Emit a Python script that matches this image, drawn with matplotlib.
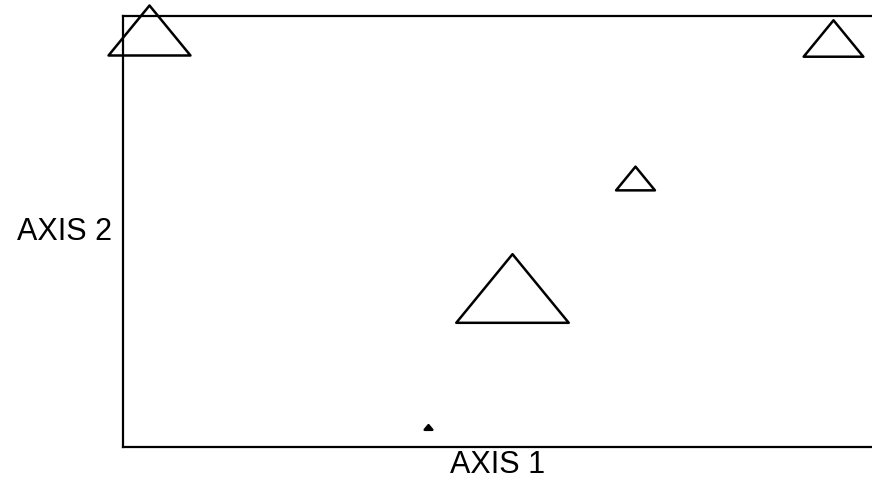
import matplotlib
matplotlib.use("Agg")
import matplotlib.pyplot as plt
from matplotlib.path import Path

# positions of the triangles on the two axes (arbitrary units 0..10)
axis1 = [0.35, 9.48, 6.84, 5.20, 4.07]
axis2 = [9.68, 9.48, 6.24, 3.70, 0.46]
# triangle widths in points
widths = [59, 43, 28, 81, 5.5]
filled = [False, False, False, False, True]

# flat open triangle, wider than tall
tri = Path([(-0.5, -0.305), (0.5, -0.305), (0.0, 0.305), (-0.5, -0.305)],
           [Path.MOVETO, Path.LINETO, Path.LINETO, Path.CLOSEPOLY])

plt.rcParams['font.family'] = ['Liberation Sans', 'DejaVu Sans']

fig = plt.figure(figsize=(8.72, 4.91), dpi=100)
ax = fig.add_axes([0.141, 0.0896, 0.859, 0.878])

for x, y, w, f in zip(axis1, axis2, widths, filled):
    ax.plot([x], [y], marker=tri, markersize=w, linestyle='none',
            markerfacecolor='black' if f else 'none',
            markeredgecolor='black', markeredgewidth=1.8, clip_on=False)

ax.set_xlim(0, 10)
ax.set_ylim(0, 10)
ax.set_xticks([])
ax.set_yticks([])
ax.spines['right'].set_visible(False)
for s in ['left', 'top', 'bottom']:
    ax.spines[s].set_linewidth(1.6)

fig.text(0.074, 0.527, 'AXIS 2', fontsize=22, ha='center', va='center')
fig.text(0.571, 0.052, 'AXIS 1', fontsize=22, ha='center', va='center')

fig.savefig('out.png', dpi=100)
